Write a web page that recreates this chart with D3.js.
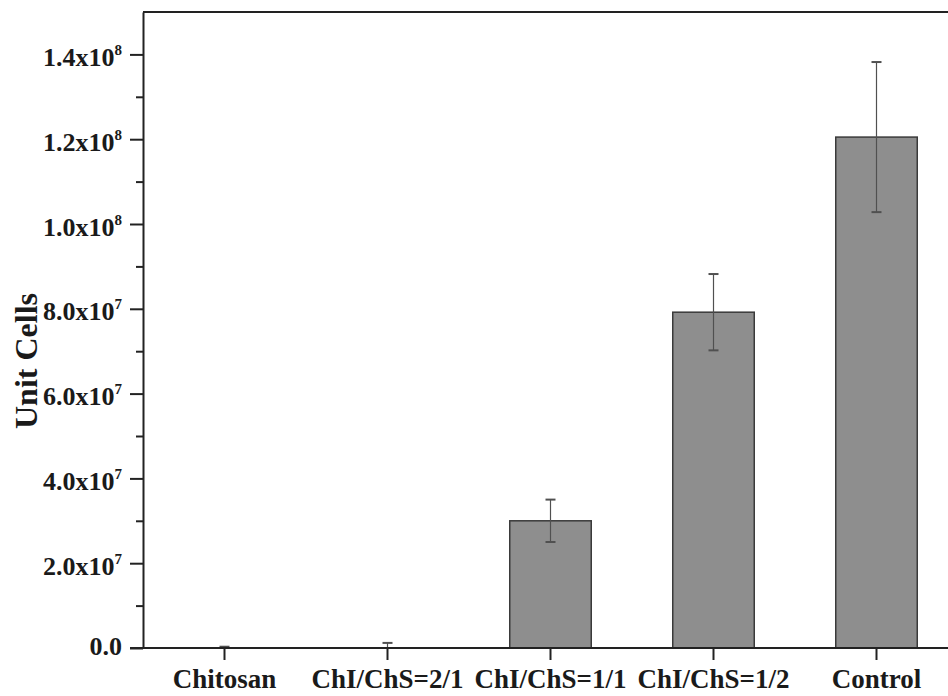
<!DOCTYPE html>
<html>
<head>
<meta charset="utf-8">
<script src="https://cdn.jsdelivr.net/npm/d3@7"></script>
<style>
  body { margin: 0; background: #fff; }
  svg { display: block; }
</style>
</head>
<body>
<div id="chart"></div>
<script>
// data
var categories = ['Chitosan', 'ChI/ChS=2/1', 'ChI/ChS=1/1', 'ChI/ChS=1/2', 'Control'];
var cellCounts = [0, 0, 3.0e7, 7.92e7, 1.205e8];
var cellErrors = [3e5, 1.2e6, 0.5e7, 0.9e7, 1.77e7];
var majorTicks = [0, 2e7, 4e7, 6e7, 8e7, 1e8, 1.2e8, 1.4e8];
var minorTicks = [1e7, 3e7, 5e7, 7e7, 9e7, 1.1e8, 1.3e8];
var tickMantissa = ['0.0', '2.0', '4.0', '6.0', '8.0', '1.0', '1.2', '1.4'];
var tickExponent = ['', '7', '7', '7', '7', '8', '8', '8'];

var width = 948, height = 696;
var margin = {top: 12, left: 143, bottom: 48};
var font = '"Liberation Serif", "Times New Roman", serif';

var svg = d3.select('#chart').append('svg')
  .attr('width', width)
  .attr('height', height);

// the plot runs past the right edge of the picture, as in the original
var x = d3.scaleBand()
  .domain(categories)
  .range([margin.left, 958])
  .paddingInner(0.5)
  .paddingOuter(0.25);

var y = d3.scaleLinear()
  .domain([0, 1.5e8])
  .range([height - margin.bottom, margin.top]);

var data = categories.map(function(c, i) {
  return {name: c, value: cellCounts[i], err: cellErrors[i]};
});

// bars
svg.append('g').selectAll('rect')
  .data(data.filter(d => d.value > 0))
  .enter()
  .append('rect')
  .attr('x', d => x(d.name))
  .attr('width', x.bandwidth())
  .attr('y', d => y(d.value))
  .attr('height', d => y(0) - y(d.value))
  .style('fill', '#8e8e8e')
  .style('stroke', '#3a3a3a')
  .style('stroke-width', 1.5);

// error bars
var eb = svg.append('g').selectAll('g')
  .data(data)
  .enter()
  .append('g')
  .style('stroke', '#505050')
  .style('stroke-width', 1.2);

eb.append('line')
  .attr('x1', d => x(d.name) + x.bandwidth() / 2)
  .attr('x2', d => x(d.name) + x.bandwidth() / 2)
  .attr('y1', d => y(Math.max(0, d.value - d.err)))
  .attr('y2', d => y(d.value + d.err));

eb.each(function(d) {
  var cx = x(d.name) + x.bandwidth() / 2;
  var g = d3.select(this);
  [d.value + d.err, d.value - d.err].forEach(function(v) {
    if (v < 0) return;
    g.append('line')
      .attr('x1', cx - 5).attr('x2', cx + 5)
      .attr('y1', y(v)).attr('y2', y(v))
      .style('stroke-width', 2);
  });
});

// top frame line
svg.append('line')
  .attr('x1', margin.left).attr('x2', width)
  .attr('y1', margin.top).attr('y2', margin.top)
  .style('stroke', '#222')
  .style('stroke-width', 2);

// minor y ticks
svg.append('g')
  .attr('transform', 'translate(' + margin.left + ',0)')
  .call(d3.axisLeft(y).tickValues(minorTicks).tickSize(7).tickFormat(''))
  .call(g => g.select('.domain').remove())
  .selectAll('line')
  .style('stroke', '#222')
  .style('stroke-width', 2);

// major y axis
var yAxis = svg.append('g')
  .attr('transform', 'translate(' + margin.left + ',0)')
  .call(d3.axisLeft(y).tickValues(majorTicks).tickSize(13).tickSizeOuter(0));

yAxis.select('.domain').style('stroke', '#222').style('stroke-width', 2);
yAxis.selectAll('line').style('stroke', '#222').style('stroke-width', 2);

yAxis.selectAll('text').each(function(d, i) {
  var t = d3.select(this);
  t.text(null)
    .attr('x', -21)
    .attr('dy', null)
    .attr('y', i === 0 ? 6 : 11)
    .style('font-family', font)
    .style('font-weight', 'bold')
    .style('font-size', '26px')
    .style('fill', '#1a1a1a');
  if (tickExponent[i] === '') {
    t.text(tickMantissa[i]);
  } else {
    t.append('tspan').text(tickMantissa[i] + 'x10');
    t.append('tspan')
      .attr('dy', -11)
      .style('font-size', '15px')
      .text(tickExponent[i]);
  }
});

// x axis
var xAxis = svg.append('g')
  .attr('transform', 'translate(0,' + y(0) + ')')
  .call(d3.axisBottom(x).tickSize(12).tickSizeOuter(0));

xAxis.select('.domain')
  .attr('d', 'M' + (margin.left - 13) + ',0H' + width)
  .style('stroke', '#222')
  .style('stroke-width', 2);
xAxis.selectAll('line').style('stroke', '#222').style('stroke-width', 2);
xAxis.selectAll('text')
  .attr('y', 40)
  .attr('dy', null)
  .style('font-family', font)
  .style('font-weight', 'bold')
  .style('font-size', '27px')
  .style('fill', '#1a1a1a');

// y axis title
svg.append('text')
  .attr('transform', 'rotate(-90)')
  .attr('x', -361)
  .attr('y', 37)
  .attr('text-anchor', 'middle')
  .style('font-family', font)
  .style('font-weight', 'bold')
  .style('font-size', '32px')
  .style('fill', '#1a1a1a')
  .text('Unit Cells');
</script>
</body>
</html>
